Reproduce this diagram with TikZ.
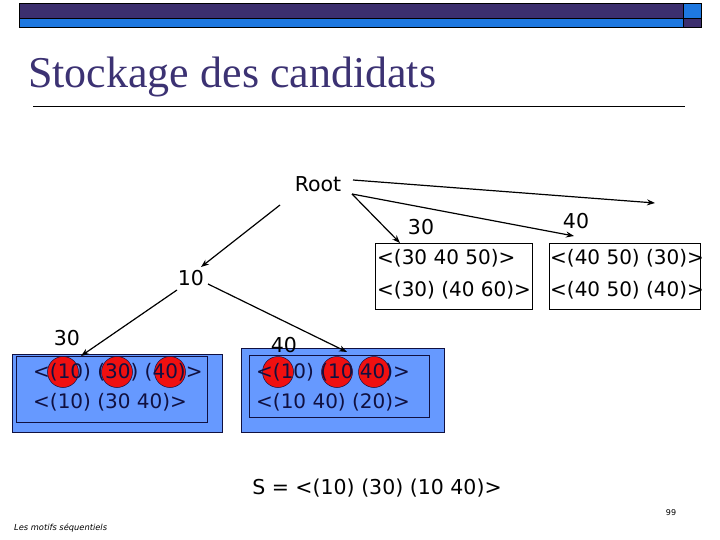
\documentclass[tikz,border=0pt]{standalone}
\usepackage{fontspec}
\setmainfont{DejaVu Sans}
\newfontfamily\titlefont{Liberation Serif}
\usetikzlibrary{arrows.meta}
\definecolor{darkband}{HTML}{3C2F6E}
\definecolor{lightband}{HTML}{1E78E0}
\definecolor{boxblue}{HTML}{6699FF}
\definecolor{titlecol}{HTML}{3C3273}
\definecolor{navy}{HTML}{101040}
\definecolor{dotred}{HTML}{F01010}
\tikzset{
  lbl/.style={inner sep=0pt, font=\fontsize{20.5}{24}\selectfont, text=black},
  row/.style={inner sep=0pt, anchor=west, font=\fontsize{20}{24}\selectfont},
  wbox/.style={draw=black, line width=0.8pt, fill=white, inner sep=0pt},
  bbox/.style={draw=navy, line width=0.8pt, fill=boxblue, inner sep=0pt},
  ibox/.style={draw=navy, line width=0.8pt, inner sep=0pt},
  dot/.style={circle, fill=dotred, draw=navy, line width=0.5pt, minimum size=31pt, inner sep=0pt},
  conn/.style={line width=1.2pt, -{Stealth[length=8pt,width=6pt]}},
  plain/.style={line width=1.2pt}
}
\begin{document}
\begin{tikzpicture}[x=1pt,y=-1pt]
\useasboundingbox (0,0) rectangle (720,540);
% header bands
\fill[darkband] (19,3) rectangle (683,18);
\fill[lightband] (19,18) rectangle (683,27);
\fill[lightband] (683,3) rectangle (701,18);
\fill[darkband] (683,18) rectangle (701,27);
\draw[black, line width=0.8pt] (19,3) rectangle (701,27);
\draw[black, line width=0.6pt] (19,18) -- (701,18);
\draw[black, line width=0.6pt] (683,3) -- (683,27);
% title
\node[anchor=base west, inner sep=0pt, text=titlecol, font=\titlefont\fontsize{44}{48}\selectfont] (title) at (28,88) {Stockage des candidats};
\draw[black, line width=0.8pt] (33,106) -- (685,106);

% labels
\node[lbl] (root) at (318,184) {Root};
\node[lbl] (l30a) at (421,227) {30};
\node[lbl] (l40a) at (576,221) {40};
\node[lbl] (l10) at (191,278) {10};
\node[lbl] (l30b) at (67,338) {30};

% white boxes
\node[wbox, minimum width=157pt, minimum height=66pt] (box1) at (453.5,276) {};
\node[row] (b1r1) at (377,258) {<(30 40 50)>};
\node[row] (b1r2) at (377,290) {<(30) (40 60)>};
\node[wbox, minimum width=151pt, minimum height=66pt] (box2) at (624.5,276) {};
\node[row] (b2r1) at (550,258) {<(40 50) (30)>};
\node[row] (b2r2) at (550,290) {<(40 50) (40)>};

% blue boxes
\node[bbox, minimum width=210pt, minimum height=78pt] (box3) at (117,393) {};
\node[ibox, minimum width=191pt, minimum height=66pt] (box3i) at (111.5,389) {};
\node[bbox, minimum width=203pt, minimum height=84pt] (box4) at (342.5,390) {};
\node[ibox, minimum width=180pt, minimum height=62pt] (box4i) at (339,386) {};
\node[lbl] (l40b) at (284,345) {40};

% red dots
\node[dot] (d1) at (63,372) {};
\node[dot] (d2) at (117,372) {};
\node[dot] (d3) at (170,372) {};
\node[dot] (d4) at (278,372) {};
\node[dot] (d5) at (337,372) {};
\node[dot] (d6) at (374,372) {};

% blue box texts
\node[row, text=navy] (b3r1) at (33,372) {<(10) (30) (40)>};
\node[row, text=navy] (b3r2) at (33,402) {<(10) (30 40)>};
\node[row, text=navy] (b4r1) at (256,372) {<(10) (10 40)>};
\node[row, text=navy] (b4r2) at (256,402) {<(10 40) (20)>};

% connector end points
\coordinate (rs1) at (353,180);
\coordinate (rs2) at (352,194);
\coordinate (rs3) at (280,205);
\coordinate (t1) at (655,203);
\coordinate (t2) at (574,236);
\coordinate (t3) at (400,243);
\coordinate (t4) at (201,267);
\coordinate (s5) at (177,290);
\coordinate (t5) at (81,356);
\coordinate (s6) at (208,284);
\coordinate (t6) at (347,352);

\draw[conn] (rs1) -- (t1);
\draw[conn] (rs2) -- (t2);
\draw[conn] (rs2) -- (t3);
\draw[conn] (rs3) -- (t4);
\draw[conn] (s5) -- (t5);
\draw[conn] (s6) -- (t6);

% bottom texts
\node[lbl] (seq) at (377,488) {S = <(10) (30) (10 40)>};
\node[inner sep=0pt, font=\fontsize{8}{10}\selectfont] (page) at (671,513) {99};
\node[inner sep=0pt, anchor=west, font=\itshape\fontsize{8.3}{10}\selectfont] (foot) at (14,528) {Les motifs séquentiels};
\end{tikzpicture}
\end{document}
